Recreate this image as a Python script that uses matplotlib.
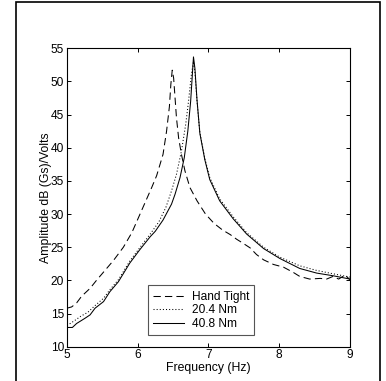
import matplotlib
matplotlib.use("Agg")
import matplotlib.pyplot as plt
from matplotlib.patches import Rectangle

# Hand Tight (dashed)
f_hand = [5.00, 5.07, 5.14, 5.21, 5.33, 5.42, 5.54, 5.66, 5.80, 5.92, 5.99, 6.06,
          6.13, 6.20, 6.27, 6.36, 6.41, 6.45, 6.47, 6.49, 6.51, 6.53, 6.55, 6.58,
          6.62, 6.67, 6.74, 6.84, 6.96, 7.08, 7.20, 7.31, 7.40, 7.49, 7.59, 7.68,
          7.78, 7.92, 8.06, 8.20, 8.29, 8.43, 8.58, 8.67, 8.76, 8.84, 8.93, 9.00]
a_hand = [15.8, 16.0, 16.6, 17.6, 18.8, 20.0, 21.5, 23.0, 25.0, 27.2, 28.9, 30.6,
          32.3, 34.0, 35.8, 39.0, 42.5, 46.2, 49.5, 51.7, 50.5, 47.5, 44.5, 41.5,
          39.0, 36.5, 34.0, 32.0, 30.0, 28.6, 27.6, 26.9, 26.2, 25.6, 24.9, 23.9,
          23.1, 22.4, 22.0, 21.2, 20.6, 20.2, 20.3, 20.2, 20.6, 20.2, 20.8, 20.1]

# 20.4 Nm (dotted)
f_204 = [5.00, 5.05, 5.12, 5.20, 5.30, 5.40, 5.52, 5.61, 5.73, 5.89, 6.03, 6.18,
         6.30, 6.40, 6.48, 6.55, 6.62, 6.68, 6.72, 6.76, 6.79, 6.81, 6.84, 6.88,
         6.95, 7.02, 7.16, 7.35, 7.54, 7.78, 8.01, 8.29, 8.53, 8.76, 9.00]
a_204 = [13.3, 13.5, 14.0, 14.6, 15.2, 16.2, 17.3, 18.6, 20.1, 22.9, 24.9, 27.0,
         28.8, 31.0, 33.5, 36.0, 39.5, 43.5, 47.0, 51.0, 53.0, 51.5, 47.0, 42.3,
         38.4, 35.5, 32.3, 29.6, 27.2, 25.0, 23.5, 22.2, 21.5, 21.0, 20.5]

# 40.8 Nm (solid)
f_408 = [5.00, 5.08, 5.14, 5.26, 5.33, 5.40, 5.52, 5.61, 5.73, 5.89, 6.03, 6.18,
         6.25, 6.36, 6.43, 6.48, 6.53, 6.60, 6.66, 6.71, 6.75, 6.79, 6.81, 6.84,
         6.88, 6.95, 7.02, 7.16, 7.35, 7.54, 7.78, 8.01, 8.29, 8.53, 8.76, 9.00]
a_408 = [12.9, 12.9, 13.5, 14.3, 14.8, 15.8, 16.8, 18.3, 19.8, 22.6, 24.6, 26.6,
         27.4, 29.1, 30.5, 31.5, 33.0, 35.5, 38.5, 42.5, 47.0, 53.7, 52.0, 47.2,
         42.2, 38.2, 35.2, 32.0, 29.3, 27.0, 24.8, 23.3, 21.8, 21.1, 20.7, 20.2]

labels = ["Hand Tight", "20.4 Nm", "40.8 Nm"]
x_ticks = [5, 6, 7, 8, 9]
y_ticks = [10, 15, 20, 25, 30, 35, 40, 45, 50, 55]

plt.rcParams['font.family'] = ['Liberation Sans', 'DejaVu Sans']

W, H = 386, 381
fig = plt.figure(figsize=(W / 100, H / 100), dpi=100)
fig.patch.set_facecolor('white')

ax = fig.add_axes([66.7 / W, 1 - 346.7 / H, (350 - 66.7) / W, (346.7 - 48.3) / H])

lw = 0.75
ax.plot(f_hand, a_hand, color='black', linewidth=lw, linestyle=(0, (7, 4)), label=labels[0])
ax.plot(f_204, a_204, color='black', linewidth=lw, linestyle=(0, (1, 2)), label=labels[1])
ax.plot(f_408, a_408, color='black', linewidth=lw, linestyle='-', label=labels[2])

ax.set_xlim(5, 9)
ax.set_ylim(10, 55)
ax.set_xticks(x_ticks)
ax.set_yticks(y_ticks)
ax.tick_params(direction='in', length=3, width=0.7, top=True, right=True,
               labelsize=8.6, pad=2)
for s in ax.spines.values():
    s.set_linewidth(0.8)

ax.set_xlabel("Frequency (Hz)", fontsize=8.8, labelpad=0.5)
ax.set_ylabel("Amplitude dB (Gs)/Volts", fontsize=8.8, labelpad=-1)

leg = ax.legend(loc='lower left', bbox_to_anchor=(0.287, 0.039), borderaxespad=0,
                fontsize=8.6, fancybox=False, handlelength=2.6, handletextpad=0.6,
                labelspacing=0.12, borderpad=0.45, framealpha=1)
leg.get_frame().set_edgecolor('#555555')
leg.get_frame().set_linewidth(0.8)

fig.add_artist(Rectangle((16 / W, -0.02), (380 - 16) / W, 1 - 2 / H + 0.02,
                         transform=fig.transFigure, fill=False,
                         edgecolor='black', linewidth=1.2))

fig.savefig("out.png", dpi=100)
